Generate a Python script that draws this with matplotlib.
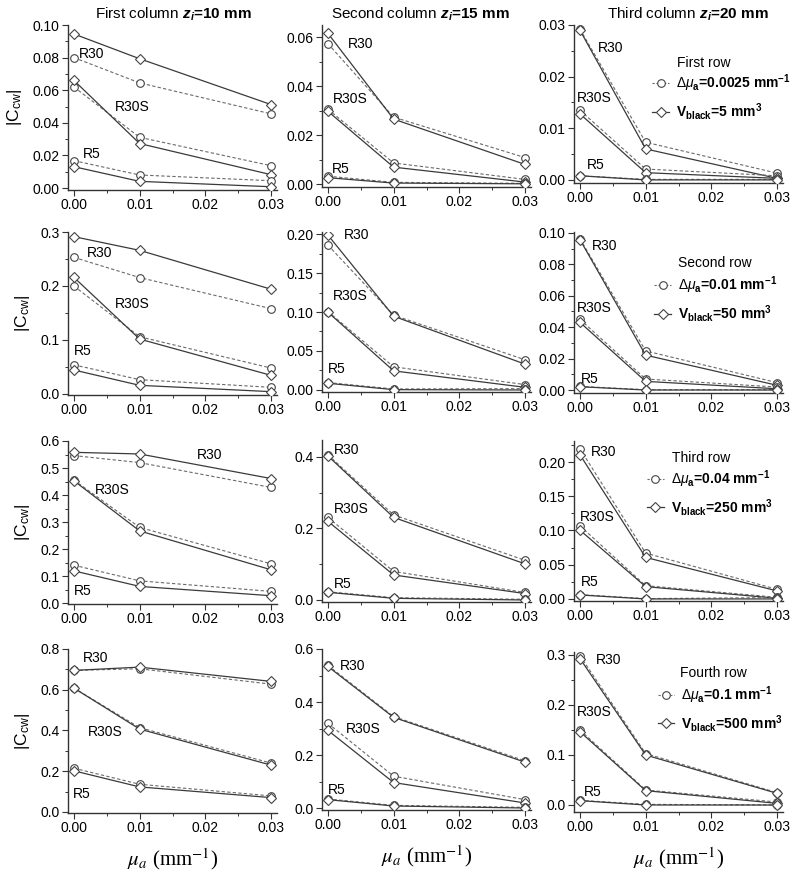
import matplotlib
matplotlib.use("Agg")
import matplotlib.pyplot as plt
from matplotlib.ticker import MultipleLocator, FormatStrFormatter
from matplotlib.lines import Line2D

plt.rcParams['font.family'] = ['Liberation Sans', 'DejaVu Sans']
plt.rcParams['mathtext.fontset'] = 'custom'
plt.rcParams['mathtext.rm'] = 'Liberation Sans'
plt.rcParams['mathtext.it'] = 'Liberation Sans:italic'
plt.rcParams['mathtext.bf'] = 'Liberation Sans:bold'
plt.rcParams['mathtext.bfit'] = 'Liberation Sans:italic:bold'

# x values and group names
mu_a = [0.0, 0.01, 0.03]
groups = ['R30', 'R30S', 'R5']
col_titles = ['First', 'Second', 'Third']
z_i = [10, 15, 20]
row_names = ['First row', 'Second row', 'Third row', 'Fourth row']
d_mu = ['0.0025', '0.01', '0.04', '0.1']
v_black = ['5', '50', '250', '500']

# |C_cw| values, one list per group (R30, R30S, R5)
# *_dmu : open circles, dashed   *_vb : diamonds, solid
r1c1_dmu = [[0.080, 0.0645, 0.0455], [0.062, 0.0311, 0.0137], [0.0168, 0.008, 0.0045]]
r1c1_vb = [[0.0945, 0.0793, 0.0512], [0.066, 0.0273, 0.0082], [0.0131, 0.0041, 0.0008]]
r1c2_dmu = [[0.0573, 0.0273, 0.0108], [0.0305, 0.0086, 0.0019], [0.0032, 0.0007, 0.0003]]
r1c2_vb = [[0.0615, 0.0265, 0.0080], [0.0297, 0.0069, 0.0008], [0.0026, 0.0004, 0.0001]]
r1c3_dmu = [[0.0292, 0.0073, 0.0013], [0.0135, 0.0021, 0.0008], [0.0008, 0.0001, 0.0001]]
r1c3_vb = [[0.0290, 0.0060, 0.0003], [0.0128, 0.0014, 0.0003], [0.0008, 0.0, 0.0]]

r2c1_dmu = [[0.253, 0.2156, 0.158], [0.200, 0.106, 0.048], [0.054, 0.0265, 0.0123]]
r2c1_vb = [[0.2914, 0.266, 0.194], [0.216, 0.1017, 0.0345], [0.0444, 0.016, 0.0043]]
r2c2_dmu = [[0.1858, 0.0959, 0.0387], [0.1006, 0.0297, 0.0069], [0.0095, 0.0013, 0.0017]]
r2c2_vb = [[0.1987, 0.0946, 0.0331], [0.0998, 0.0245, 0.0034], [0.0086, 0.0004, 0.0]]
r2c3_dmu = [[0.0964, 0.0249, 0.0047], [0.045, 0.007, 0.0019], [0.0023, 0.0002, 0.0002]]
r2c3_vb = [[0.0958, 0.0222, 0.0030], [0.0431, 0.0055, 0.0008], [0.0021, 0.0, 0.0]]

r3c1_dmu = [[0.546, 0.520, 0.428], [0.455, 0.280, 0.145], [0.140, 0.082, 0.043]]
r3c1_vb = [[0.558, 0.552, 0.461], [0.4526, 0.267, 0.123], [0.119, 0.0615, 0.027]]
r3c2_dmu = [[0.406, 0.238, 0.111], [0.231, 0.080, 0.021], [0.023, 0.0065, 0.002]]
r3c2_vb = [[0.403, 0.231, 0.101], [0.220, 0.070, 0.018], [0.0215, 0.0047, 0.0]]
r3c3_dmu = [[0.2194, 0.067, 0.014], [0.1068, 0.0194, 0.0024], [0.0063, 0.0005, 0.002]]
r3c3_vb = [[0.2107, 0.0607, 0.0117], [0.1005, 0.018, 0.001], [0.0058, 0.0, 0.0]]

r4c1_dmu = [[0.695, 0.703, 0.6275], [0.608, 0.414, 0.240], [0.215, 0.136, 0.079]]
r4c1_vb = [[0.695, 0.711, 0.641], [0.608, 0.407, 0.230], [0.202, 0.123, 0.0706]]
r4c2_dmu = [[0.538, 0.345, 0.178], [0.3196, 0.120, 0.0316], [0.034, 0.010, 0.0025]]
r4c2_vb = [[0.534, 0.342, 0.173], [0.293, 0.096, 0.019], [0.0316, 0.0076, 0.0]]
r4c3_dmu = [[0.2987, 0.103, 0.0247], [0.150, 0.030, 0.006], [0.0093, 0.0013, 0.0]]
r4c3_vb = [[0.293, 0.100, 0.0233], [0.1467, 0.0287, 0.0033], [0.0087, 0.0, 0.0]]

dmu_data = [[r1c1_dmu, r1c2_dmu, r1c3_dmu], [r2c1_dmu, r2c2_dmu, r2c3_dmu],
            [r3c1_dmu, r3c2_dmu, r3c3_dmu], [r4c1_dmu, r4c2_dmu, r4c3_dmu]]
vb_data = [[r1c1_vb, r1c2_vb, r1c3_vb], [r2c1_vb, r2c2_vb, r2c3_vb],
           [r3c1_vb, r3c2_vb, r3c3_vb], [r4c1_vb, r4c2_vb, r4c3_vb]]

# ---- layout (pixels) ----
W, H = 794, 873
col_lr = [(68, 277), (322, 531), (574, 783)]
row_tb = [[(25, 190), (25, 187), (25, 183)],
          [(232, 395), (232, 392), (232, 393)],
          [(441, 604), (440, 602), (441, 601)],
          [(649, 813), (649, 810), (652, 812)]]
ylims = [[(-0.0012, 0.10), (-0.0012, 0.0649), (-0.0006, 0.03)],
         [(-0.0019, 0.30), (-0.0026, 0.2026), (-0.0019, 0.1006)],
         [(-0.0037, 0.60), (-0.0056, 0.4475), (-0.003, 0.2307)],
         [(-0.005, 0.80), (-0.0075, 0.60), (-0.014, 0.306)]]
ymajor = [[0.02, 0.02, 0.01], [0.1, 0.05, 0.02], [0.1, 0.2, 0.05], [0.2, 0.2, 0.1]]
yfmt = [['%.2f', '%.2f', '%.2f'], ['%.1f', '%.2f', '%.2f'],
        ['%.1f', '%.1f', '%.2f'], ['%.1f', '%.1f', '%.1f']]
# where the R30 / R30S / R5 labels sit (data coords, left edge, v-centre)
label_xy = [
    [[(0.0008, 0.082), (0.0062, 0.050), (0.0013, 0.021)],
     [(0.0030, 0.057), (0.0008, 0.0347), (0.0006, 0.0061)],
     [(0.0027, 0.0255), (-0.0005, 0.0158), (0.0010, 0.0029)]],
    [[(0.0020, 0.262), (0.0062, 0.166), (0.0000, 0.079)],
     [(0.0024, 0.199), (0.0008, 0.120), (0.0000, 0.027)],
     [(0.0018, 0.092), (-0.0005, 0.052), (0.0002, 0.007)]],
    [[(0.0187, 0.550), (0.0032, 0.418), (0.0000, 0.043)],
     [(0.0009, 0.420), (0.0009, 0.255), (0.0009, 0.045)],
     [(0.0017, 0.2146), (0.0000, 0.120), (0.0002, 0.025)]],
    [[(0.0013, 0.756), (0.0022, 0.394), (-0.0002, 0.090)],
     [(0.0018, 0.534), (0.0027, 0.297), (0.0000, 0.069)],
     [(0.0024, 0.290), (-0.0005, 0.185), (0.0006, 0.027)]],
]
# legend placement in the third column (axes fraction)
leg_title_xy = [(0.493, 0.76), (0.498, 0.807), (0.469, 0.894), (0.507, 0.869)]
leg_xy = [(0.375, 0.70), (0.385, 0.735), (0.35, 0.83), (0.40, 0.80)]

solid_c = '#3a3a3a'
dash_c = '#6a6a6a'
mk_edge = '#444444'

fig = plt.figure(figsize=(W / 100, H / 100), dpi=100)

for i in range(4):
    for j in range(3):
        l, r = col_lr[j]
        t, b = row_tb[i][j]
        ax = fig.add_axes([l / W, 1 - b / H, (r - l) / W, (b - t) / H])
        for g in range(3):
            ax.plot(mu_a, dmu_data[i][j][g], ls='--', dashes=(3, 2), lw=0.8, color=dash_c,
                    marker='o', ms=5.5, mfc='white', mec=mk_edge, mew=0.8, zorder=3)
            ax.plot(mu_a, vb_data[i][j][g], ls='-', lw=0.9, color=solid_c,
                    marker='D', ms=5, mfc='white', mec=mk_edge, mew=0.8, zorder=3)
            lx, ly = label_xy[i][j][g]
            ax.text(lx, ly, groups[g], fontsize=10, ha='left', va='center', zorder=4)
        ax.set_xlim(-0.0009, 0.0309)
        ax.set_ylim(*ylims[i][j])
        ax.xaxis.set_major_locator(MultipleLocator(0.01))
        ax.xaxis.set_minor_locator(MultipleLocator(0.005))
        ax.xaxis.set_major_formatter(FormatStrFormatter('%.2f'))
        ax.yaxis.set_major_locator(MultipleLocator(ymajor[i][j]))
        ax.yaxis.set_minor_locator(MultipleLocator(ymajor[i][j] / 2))
        ax.yaxis.set_major_formatter(FormatStrFormatter(yfmt[i][j]))
        for s in ['top', 'right']:
            ax.spines[s].set_visible(False)
        for s in ['left', 'bottom']:
            ax.spines[s].set_linewidth(1.0)
            ax.spines[s].set_color('#333333')
        ax.tick_params(which='major', direction='out', length=4, width=0.8,
                       labelsize=10, color='#333333', pad=2)
        ax.tick_params(which='minor', direction='out', length=2.5, width=0.7, color='#333333')
        if j == 0:
            ax.set_ylabel(r'|C$_{\mathrm{cw}}$|', fontsize=12.5, labelpad=6)
        if j == 2:
            tx, ty = leg_title_xy[i]
            ax.text(tx, ty, row_names[i], transform=ax.transAxes, fontsize=10,
                    ha='left', va='center')
            h1 = Line2D([], [], ls='--', dashes=(2, 1.5), lw=0.8, color=dash_c, marker='o', ms=5.5,
                        mfc='white', mec=mk_edge, mew=0.8)
            h2 = Line2D([], [], ls='-', lw=0.9, color=solid_c, marker='D', ms=5,
                        mfc='white', mec=mk_edge, mew=0.8)
            lab1 = r'$\Delta\mathit{\mu}_{\mathbf{a}}$=%s mm$^{\mathbf{-1}}$' % d_mu[i]
            lab2 = r'V$_{\mathbf{black}}$=%s mm$^{\mathbf{3}}$' % v_black[i]
            ax.legend([h1, h2], [lab1, lab2], loc='upper left', bbox_to_anchor=leg_xy[i],
                      frameon=False, prop={'size': 10, 'weight': 'bold'},
                      handlelength=1.2, handletextpad=0.5,
                      borderpad=0, borderaxespad=0, labelspacing=0.5, numpoints=1)
        if i == 3:
            ax.set_xlabel(r'$\mu_a$ (mm$^{-1}$)', fontsize=15, math_fontfamily='stix',
                          family=['Liberation Serif'], labelpad=8)

title_x = [173, 420, 688]
for j in range(3):
    fig.text(title_x[j] / W, 1 - 14 / H,
             r'$\mathrm{%s\ column}\ \mathbfit{z_i}$=%d mm' % (col_titles[j], z_i[j]),
             fontsize=11, fontweight='bold', ha='center', va='center')

fig.savefig('out.png', dpi=100)
